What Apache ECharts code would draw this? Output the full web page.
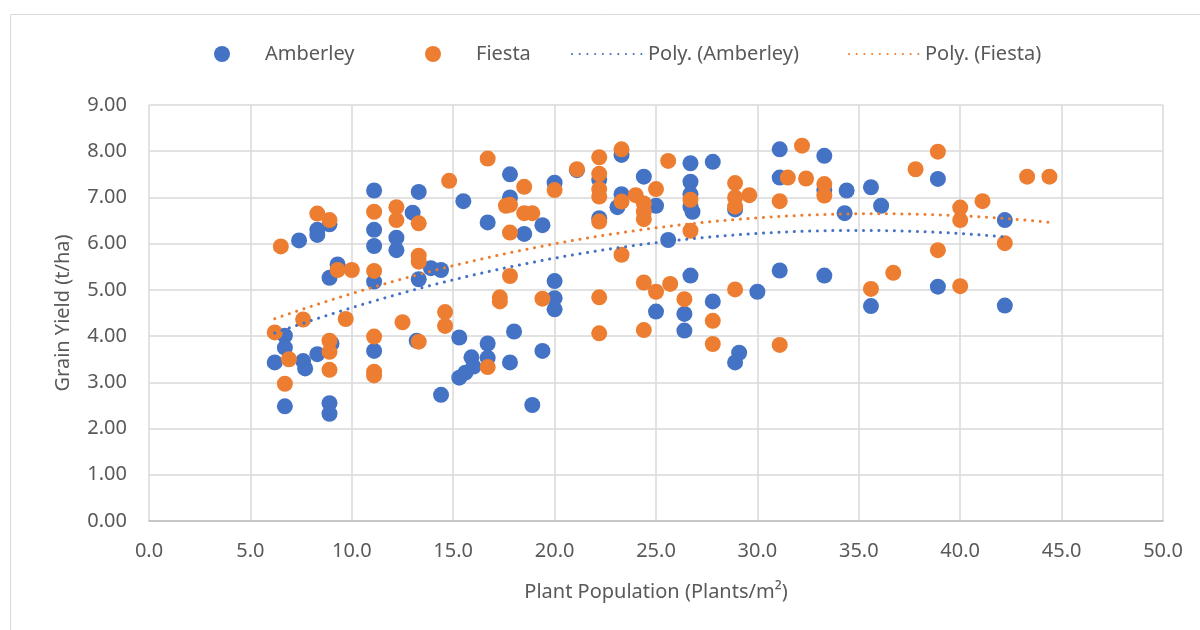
<!DOCTYPE html>
<html>
<head>
<meta charset="utf-8">
<script src="https://cdn.jsdelivr.net/npm/echarts@6/dist/echarts.min.js"></script>
<style>
html, body { margin: 0; padding: 0; background: #fff; }
#chart { width: 1200px; height: 630px; }
</style>
</head>
<body>
<div id="chart"></div>
<script>
// values
const amberleyX = [11.1, 8.9, 8.3, 8.3, 7.4, 11.1, 11.1, 12.2, 12.2, 9.3, 8.9, 11.1, 6.7, 6.7, 6.2, 7.6, 7.7, 8.3, 9.0, 6.7,
    8.9, 8.9, 11.1, 13.0, 13.3, 13.3, 13.9, 14.4, 13.2, 15.3, 16.7, 18.0, 19.4, 15.5, 16.7, 17.8, 17.8, 18.5, 19.4, 20.0,
    20.0, 20.0, 20.0, 21.1, 22.2, 22.2, 23.3, 23.3, 23.1, 24.4, 14.4, 16.7, 15.9, 16.0, 15.6, 15.3, 17.8, 18.9, 25.0, 25.6,
    26.7, 26.7, 26.7, 26.7, 26.8, 27.8, 28.9, 31.1, 31.1, 33.3, 33.3, 34.4, 35.6, 36.1, 34.3, 26.7, 25.0, 26.4, 26.4, 27.8,
    30.0, 31.1, 33.3, 35.6, 29.1, 28.9, 38.9, 42.2, 38.9, 42.2];
const amberleyY = [7.15, 6.42, 6.30, 6.19, 6.07, 6.30, 5.95, 6.13, 5.86, 5.55, 5.26, 5.18, 4.01, 3.75, 3.43, 3.46, 3.30, 3.61, 3.84, 2.48,
    2.55, 2.32, 3.68, 6.67, 7.12, 5.23, 5.47, 5.43, 3.90, 3.97, 3.84, 4.10, 3.68, 6.92, 6.46, 7.50, 7.00, 6.21, 6.40, 7.32,
    5.19, 4.82, 4.58, 7.59, 7.39, 6.55, 7.92, 7.07, 6.79, 7.45, 2.73, 3.53, 3.54, 3.34, 3.21, 3.10, 3.43, 2.51, 6.82, 6.08,
    7.74, 7.34, 7.07, 6.80, 6.69, 7.77, 6.74, 8.04, 7.43, 7.90, 7.16, 7.15, 7.22, 6.82, 6.66, 5.31, 4.53, 4.48, 4.12, 4.75,
    4.96, 5.42, 5.31, 4.65, 3.64, 3.43, 7.40, 6.51, 5.07, 4.66];

const fiestaX = [11.1, 8.3, 8.9, 6.5, 12.2, 12.2, 9.3, 10.0, 11.1, 7.6, 9.7, 6.2, 8.9, 11.1, 6.9, 8.9, 8.9, 6.7, 11.1, 11.1,
    12.5, 13.3, 13.3, 13.3, 14.6, 14.6, 13.3, 14.8, 16.7, 17.6, 17.8, 17.8, 17.8, 17.3, 17.3, 18.5, 18.5, 18.9, 19.4, 20.0,
    21.1, 22.2, 22.2, 22.2, 22.2, 22.2, 23.3, 22.2, 22.2, 23.3, 23.3, 24.0, 24.4, 24.4, 24.4, 24.4, 24.4, 16.7, 25.6, 25.0,
    26.7, 26.7, 25.0, 25.7, 26.4, 27.8, 27.8, 28.9, 28.9, 28.9, 29.6, 31.5, 31.1, 32.2, 32.4, 33.3, 33.3, 28.9, 31.1, 36.7,
    35.6, 38.9, 37.8, 40.0, 40.0, 41.1, 42.2, 43.3, 44.4, 38.9, 40.0];
const fiestaY = [6.69, 6.65, 6.51, 5.94, 6.79, 6.51, 5.43, 5.43, 5.41, 4.36, 4.37, 4.08, 3.90, 3.99, 3.50, 3.66, 3.27, 2.97, 3.23, 3.15,
    4.30, 6.44, 5.74, 5.61, 4.52, 4.22, 3.88, 7.36, 7.84, 6.82, 6.84, 6.24, 5.30, 4.84, 4.75, 7.23, 6.66, 6.66, 4.81, 7.16,
    7.61, 7.87, 7.51, 7.18, 7.02, 6.48, 5.76, 4.84, 4.06, 8.04, 6.91, 7.05, 6.87, 6.69, 6.53, 5.16, 4.13, 3.33, 7.79, 7.18,
    6.95, 6.28, 4.96, 5.13, 4.80, 4.33, 3.83, 7.31, 7.00, 6.80, 7.05, 7.43, 6.92, 8.12, 7.41, 7.29, 7.04, 5.01, 3.81, 5.37,
    5.02, 7.99, 7.61, 6.78, 6.51, 6.92, 6.01, 7.45, 7.45, 5.86, 5.08];

const xTicks = [0, 50, 5];
const yTicks = [0, 9, 1];

// 2nd order least squares fit, like the "Poly." trendline
function polyFit(xs, ys) {
    let s = [0, 0, 0, 0, 0], t = [0, 0, 0];
    for (let i = 0; i < xs.length; i++) {
        let p = 1;
        for (let k = 0; k < 5; k++) { s[k] += p; if (k < 3) t[k] += p * ys[i]; p *= xs[i]; }
    }
    const m = [[s[0], s[1], s[2], t[0]], [s[1], s[2], s[3], t[1]], [s[2], s[3], s[4], t[2]]];
    for (let i = 0; i < 3; i++) {
        for (let j = i + 1; j < 3; j++) {
            const f = m[j][i] / m[i][i];
            for (let k = i; k < 4; k++) m[j][k] -= f * m[i][k];
        }
    }
    const c = [0, 0, 0];
    for (let i = 2; i >= 0; i--) {
        let v = m[i][3];
        for (let k = i + 1; k < 3; k++) v -= m[i][k] * c[k];
        c[i] = v / m[i][i];
    }
    return c;
}

function trend(xs, ys) {
    const c = polyFit(xs, ys);
    const lo = Math.min(...xs), hi = Math.max(...xs);
    const pts = [];
    for (let i = 0; i <= 80; i++) {
        const x = lo + (hi - lo) * i / 80;
        pts.push([x, c[0] + c[1] * x + c[2] * x * x]);
    }
    return pts;
}

const pair = (xs, ys) => xs.map((x, i) => [x, ys[i]]);

const font = '"Noto Sans", sans-serif';
const grey = '#595959';
const blue = '#4472C4';
const orange = '#ED7D31';

const chart = echarts.init(document.getElementById('chart'), null, { renderer: 'canvas' });
const legendText = { fontSize: 20, color: grey, fontFamily: font };
const dotLegend = { itemStyle: { opacity: 0 } };
chart.setOption({
    animation: false,
    backgroundColor: '#fff',
    graphic: [{
        type: 'rect', shape: { x: 10.5, y: 14.5, width: 1200, height: 630 },
        style: { fill: 'none', stroke: '#d9d9d9', lineWidth: 1 }, silent: true
    }],
    legend: [
        { data: ['Amberley'], left: 209, top: 39, itemWidth: 76, itemHeight: 16, textStyle: legendText },
        { data: ['Fiesta'], left: 420, top: 39, itemWidth: 76, itemHeight: 16, textStyle: legendText },
        Object.assign({ data: ['Poly. (Amberley)'], left: 566, top: 39, itemWidth: 71, itemHeight: 16, textStyle: legendText }, dotLegend),
        Object.assign({ data: ['Poly. (Fiesta)'], left: 843, top: 39, itemWidth: 71, itemHeight: 16, textStyle: legendText }, dotLegend)
    ],
    grid: { left: 149, right: 37, top: 105, bottom: 109 },
    xAxis: {
        type: 'value', min: xTicks[0], max: xTicks[1], interval: xTicks[2],
        name: 'Plant Population (Plants/m²)', nameLocation: 'middle', nameGap: 61,
        nameTextStyle: { fontSize: 20, color: grey, fontFamily: font },
        axisLine: { show: true, lineStyle: { color: '#bfbfbf', width: 1.5 } },
        axisTick: { show: false },
        axisLabel: { fontSize: 20, color: grey, fontFamily: font, margin: 20, formatter: v => v.toFixed(1) },
        splitLine: { lineStyle: { color: '#d9d9d9', width: 1.5 } }
    },
    yAxis: {
        type: 'value', min: yTicks[0], max: yTicks[1], interval: yTicks[2],
        name: 'Grain Yield (t/ha)', nameLocation: 'middle', nameGap: 76,
        nameTextStyle: { fontSize: 20, color: grey, fontFamily: font },
        axisLine: { show: false },
        axisTick: { show: false },
        axisLabel: { fontSize: 20, color: grey, fontFamily: font, margin: 22, formatter: v => v.toFixed(2) },
        splitLine: { lineStyle: { color: '#d9d9d9', width: 1.5 } }
    },
    series: [
        { name: 'Amberley', type: 'scatter', symbolSize: 16, itemStyle: { color: blue, opacity: 1 }, data: pair(amberleyX, amberleyY) },
        { name: 'Fiesta', type: 'scatter', symbolSize: 16, itemStyle: { color: orange, opacity: 1 }, data: pair(fiestaX, fiestaY) },
        {
            name: 'Poly. (Amberley)', type: 'line', showSymbol: false, symbol: 'none', itemStyle: { color: blue },
            lineStyle: { color: blue, width: 3, type: [0.1, 7.6], cap: 'round' }, data: trend(amberleyX, amberleyY)
        },
        {
            name: 'Poly. (Fiesta)', type: 'line', showSymbol: false, symbol: 'none', itemStyle: { color: orange },
            lineStyle: { color: orange, width: 3, type: [0.1, 7.6], cap: 'round' }, data: trend(fiestaX, fiestaY)
        }
    ]
});
</script>
</body>
</html>
